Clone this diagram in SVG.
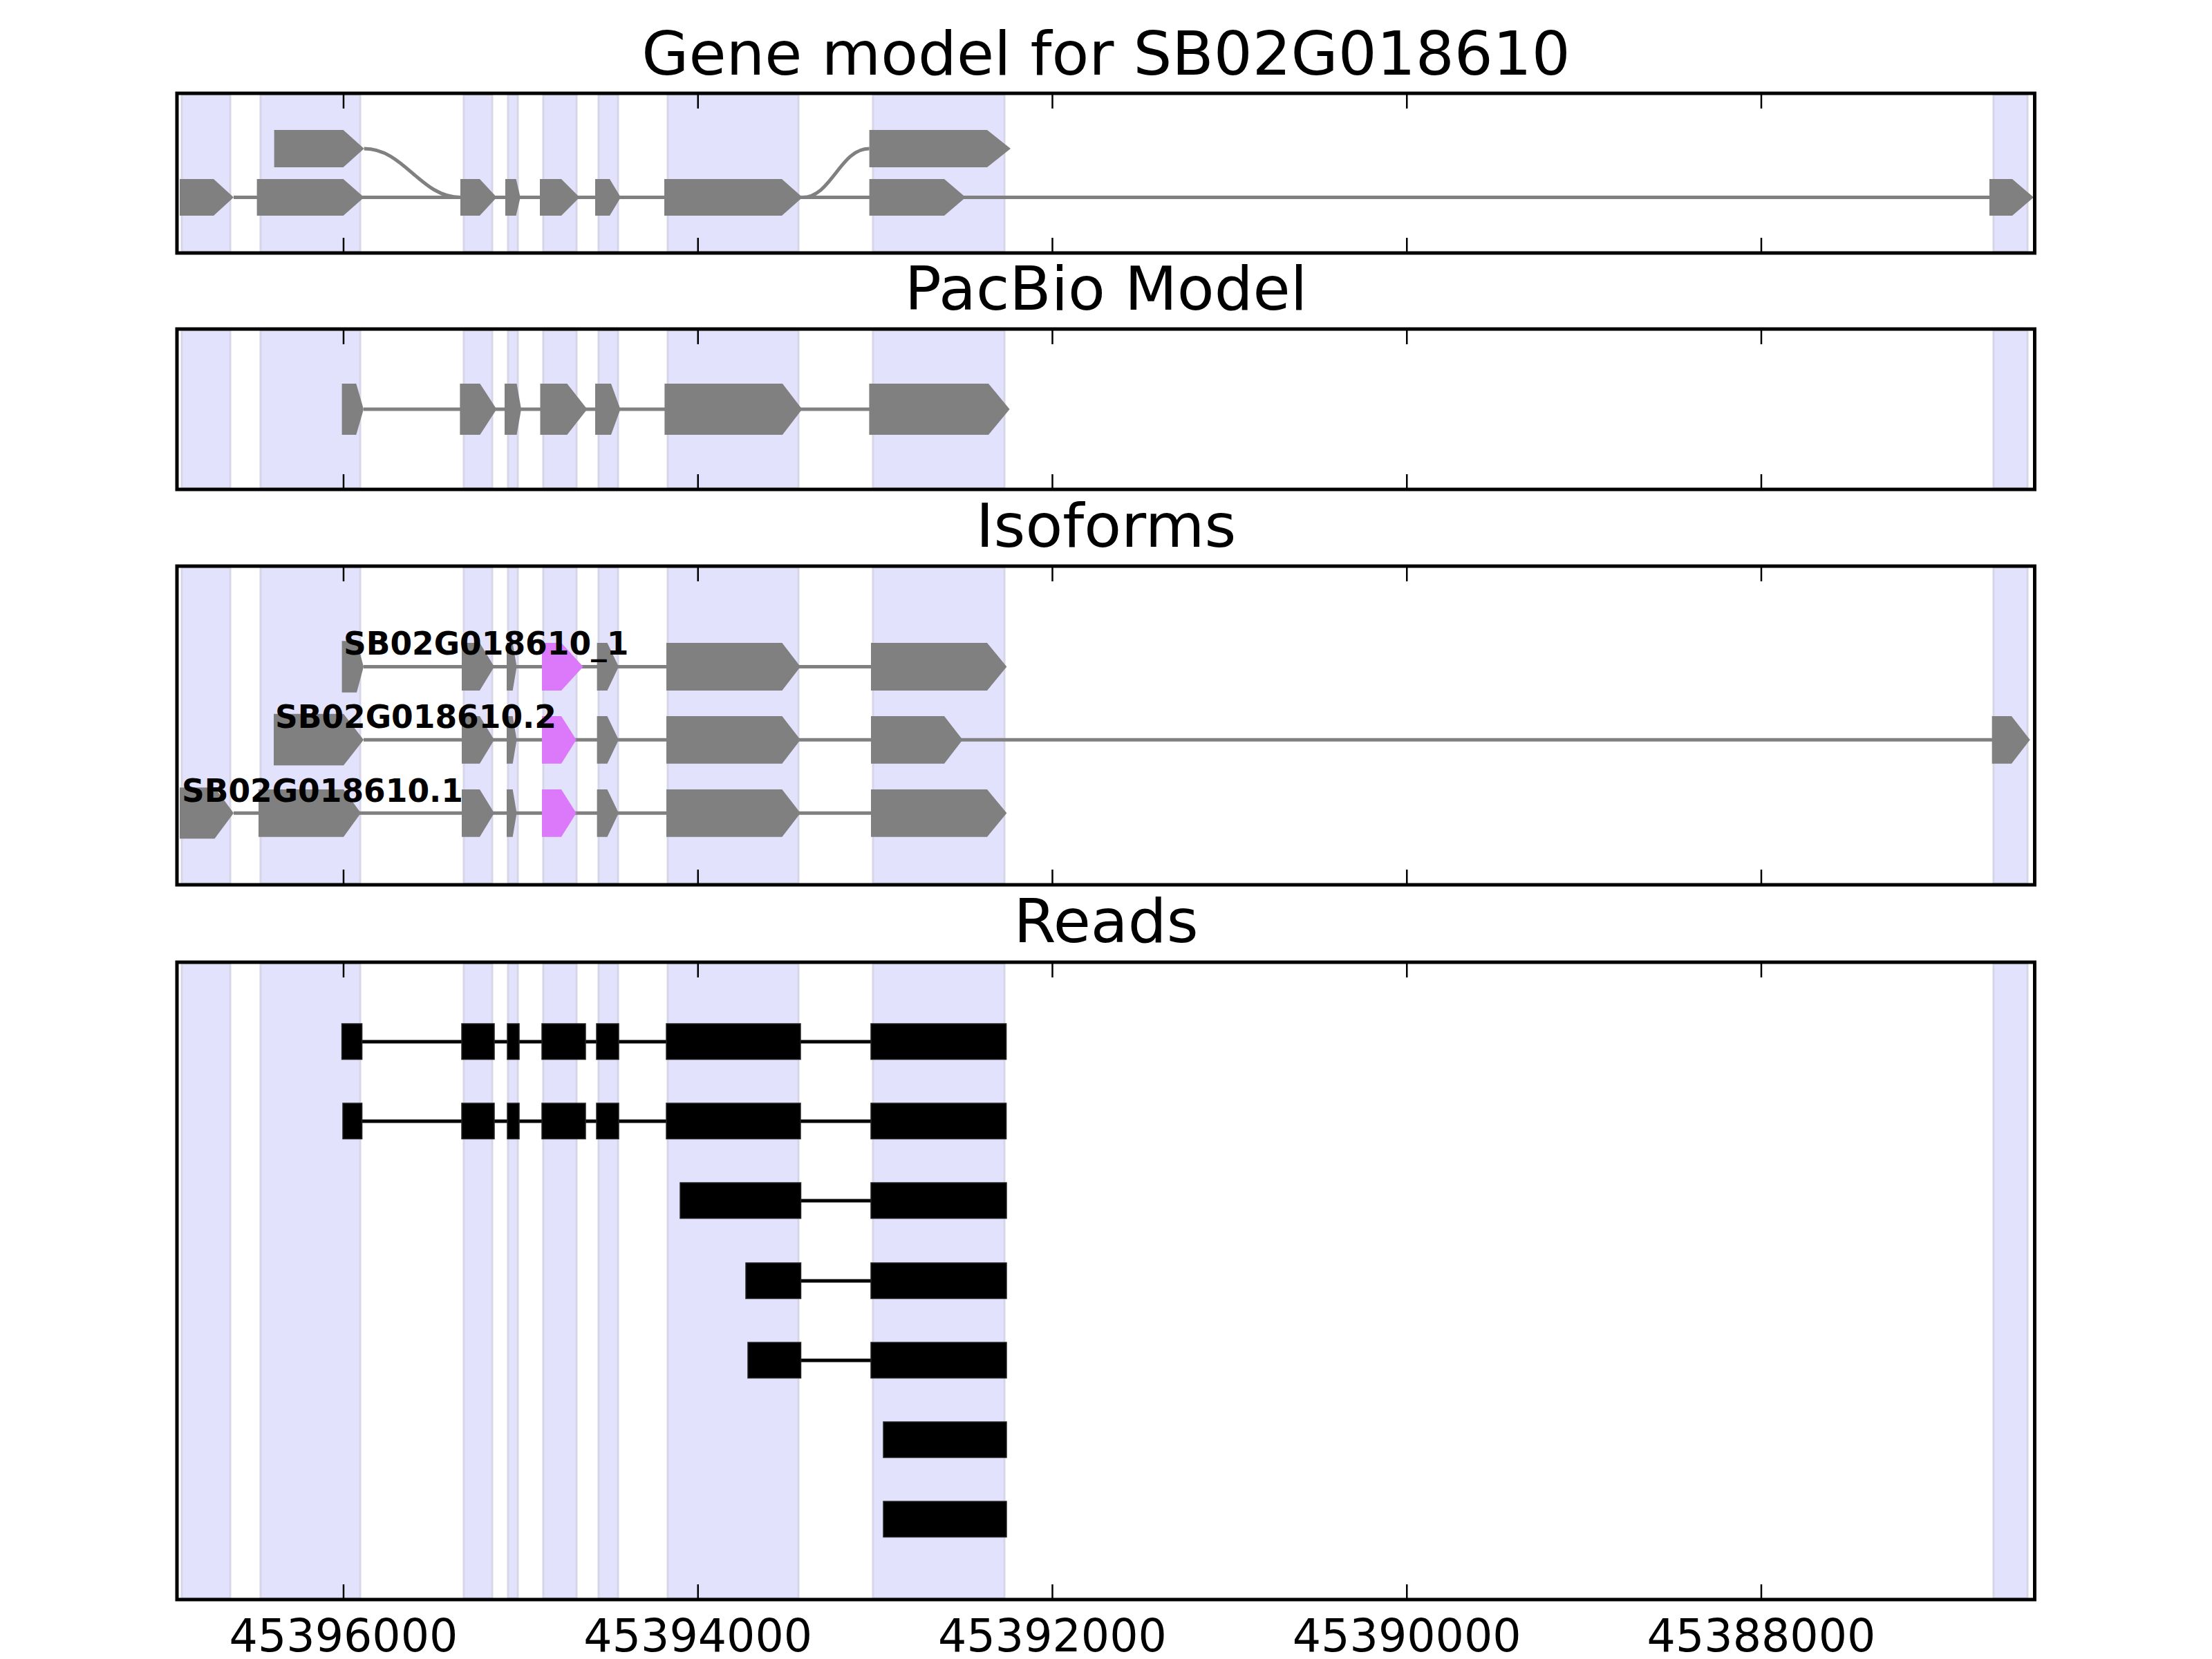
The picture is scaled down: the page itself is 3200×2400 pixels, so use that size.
<svg xmlns="http://www.w3.org/2000/svg" width="3200" height="2400" viewBox="0 0 3200 2400">
<style>
.band{fill:#e2e2fd;stroke:#d6d6e8;stroke-width:3}
.ex{fill:#808080}
.mg{fill:#dc78fa}
.ln{stroke:#808080;stroke-width:5;fill:none}
.rd{fill:#000;stroke:#222;stroke-width:1.5}
.rl{stroke:#000;stroke-width:5}
.ax{fill:none;stroke:#000;stroke-width:5}
.tk{stroke:#000;stroke-width:2.5}
.title{font-family:"DejaVu Sans",sans-serif;font-size:88px;text-anchor:middle;fill:#000}
.lab{font-family:"DejaVu Sans",sans-serif;font-weight:bold;font-size:45.5px;fill:#000}
.tl{font-family:"DejaVu Sans",sans-serif;font-size:65px;text-anchor:middle;fill:#000}
</style>
<rect width="3200" height="2400" fill="#fff"/>

<!-- Panel 1 -->
<g id="panel-gene-model">
<text class="title" x="1600" y="108">Gene model for SB02G018610</text>
<g id="bands-p1">
<rect class="band" x="263" y="137" width="70" height="227"/>
<rect class="band" x="377" y="137" width="144" height="227"/>
<rect class="band" x="671" y="137" width="41" height="227"/>
<rect class="band" x="735" y="137" width="14" height="227"/>
<rect class="band" x="786" y="137" width="48" height="227"/>
<rect class="band" x="866" y="137" width="28" height="227"/>
<rect class="band" x="966" y="137" width="189" height="227"/>
<rect class="band" x="1263" y="137" width="190" height="227"/>
<rect class="band" x="2884" y="137" width="49" height="227"/>
</g>
<g id="connectors-p1">
<line class="ln" x1="338" y1="285.5" x2="2880" y2="285.5"/>
<path class="ln" d="M526.7,215 C585,215 608,285.5 666,285.5"/>
<path class="ln" d="M1161,285.5 C1203,285.5 1215,215 1257.6,215"/>
</g>
<g id="transcript-p1-a">
<polygon class="ex" points="260,259 309,259 338,285.5 309,312 260,312"/>
<polygon class="ex" points="371.6,259 496.6,259 526.7,285.5 496.6,312 371.6,312"/>
<polygon class="ex" points="666,259 694,259 718.6,285.5 694,312 666,312"/>
<polygon class="ex" points="731,259 746.6,259 752.8,285.5 746.6,312 731,312"/>
<polygon class="ex" points="781,259 812,259 838.5,285.5 812,312 781,312"/>
<polygon class="ex" points="861,259 882,259 898,285.5 882,312 861,312"/>
<polygon class="ex" points="961,259 1131,259 1161,285.5 1131,312 961,312"/>
<polygon class="ex" points="1257.6,259 1366,259 1397,285.5 1366,312 1257.6,312"/>
<polygon class="ex" points="2878,259 2911,259 2942,285.5 2911,312 2878,312"/>
</g>
<g id="transcript-p1-b">
<polygon class="ex" points="396.6,188 496.6,188 526.7,215 496.6,242 396.6,242"/>
<polygon class="ex" points="1257.6,188 1428,188 1462,215 1428,242 1257.6,242"/>
</g>
<rect class="ax" x="256" y="135" width="2687.5" height="231"/>
<g class="tk">
<line x1="497" y1="135" x2="497" y2="157"/><line x1="1009.75" y1="135" x2="1009.75" y2="157"/><line x1="1522.5" y1="135" x2="1522.5" y2="157"/><line x1="2035.25" y1="135" x2="2035.25" y2="157"/><line x1="2548" y1="135" x2="2548" y2="157"/>
<line x1="497" y1="366" x2="497" y2="344"/><line x1="1009.75" y1="366" x2="1009.75" y2="344"/><line x1="1522.5" y1="366" x2="1522.5" y2="344"/><line x1="2035.25" y1="366" x2="2035.25" y2="344"/><line x1="2548" y1="366" x2="2548" y2="344"/>
</g>
</g>

<!-- Panel 2 -->
<g id="panel-pacbio">
<text class="title" x="1600" y="448">PacBio Model</text>
<g id="bands-p2">
<rect class="band" x="263" y="478" width="70" height="228"/>
<rect class="band" x="377" y="478" width="144" height="228"/>
<rect class="band" x="671" y="478" width="41" height="228"/>
<rect class="band" x="735" y="478" width="14" height="228"/>
<rect class="band" x="786" y="478" width="48" height="228"/>
<rect class="band" x="866" y="478" width="28" height="228"/>
<rect class="band" x="966" y="478" width="189" height="228"/>
<rect class="band" x="1263" y="478" width="190" height="228"/>
<rect class="band" x="2884" y="478" width="49" height="228"/>
</g>
<g id="connectors-p2">
<line class="ln" x1="526" y1="592" x2="1258" y2="592"/>
</g>
<g id="transcript-pacbio">
<polygon class="ex" points="494.6,555 515.3,555 526,592 515.3,629 494.6,629"/>
<polygon class="ex" points="665.4,555 694.4,555 718.4,592 694.4,629 665.4,629"/>
<polygon class="ex" points="730,555 747.5,555 754,592 747.5,629 730,629"/>
<polygon class="ex" points="781.5,555 820.4,555 849.5,592 820.4,629 781.5,629"/>
<polygon class="ex" points="861,555 884,555 897.5,592 884,629 861,629"/>
<polygon class="ex" points="961.4,555 1132,555 1160.4,592 1132,629 961.4,629"/>
<polygon class="ex" points="1257.4,555 1430,555 1460.6,592 1430,629 1257.4,629"/>
</g>
<rect class="ax" x="256" y="476" width="2687.5" height="232"/>
<g class="tk">
<line x1="497" y1="476" x2="497" y2="498"/><line x1="1009.75" y1="476" x2="1009.75" y2="498"/><line x1="1522.5" y1="476" x2="1522.5" y2="498"/><line x1="2035.25" y1="476" x2="2035.25" y2="498"/><line x1="2548" y1="476" x2="2548" y2="498"/>
<line x1="497" y1="708" x2="497" y2="686"/><line x1="1009.75" y1="708" x2="1009.75" y2="686"/><line x1="1522.5" y1="708" x2="1522.5" y2="686"/><line x1="2035.25" y1="708" x2="2035.25" y2="686"/><line x1="2548" y1="708" x2="2548" y2="686"/>
</g>
</g>

<!-- Panel 3 -->
<g id="panel-isoforms">
<text class="title" x="1600" y="791">Isoforms</text>
<g id="bands-p3">
<rect class="band" x="263" y="821" width="70" height="457"/>
<rect class="band" x="377" y="821" width="144" height="457"/>
<rect class="band" x="671" y="821" width="41" height="457"/>
<rect class="band" x="735" y="821" width="14" height="457"/>
<rect class="band" x="786" y="821" width="48" height="457"/>
<rect class="band" x="866" y="821" width="28" height="457"/>
<rect class="band" x="966" y="821" width="189" height="457"/>
<rect class="band" x="1263" y="821" width="190" height="457"/>
<rect class="band" x="2884" y="821" width="49" height="457"/>
</g>
<g id="connectors-p3">
<line class="ln" x1="526" y1="964.5" x2="1260" y2="964.5"/>
<line class="ln" x1="526" y1="1070.3" x2="2882" y2="1070.3"/>
<line class="ln" x1="338" y1="1176.3" x2="1260" y2="1176.3"/>
</g>
<g id="iso-SB02G018610_1">
<polygon class="ex" points="494.6,927.3 516,927.3 526,964.5 516,1001.7 494.6,1001.7"/>
<polygon class="ex" points="668,930 694,930 715,964.5 694,999 668,999"/>
<polygon class="ex" points="733,930 741.7,930 747.5,964.5 741.7,999 733,999"/>
<polygon class="mg" points="784,930 812,930 843.6,964.5 812,999 784,999"/>
<polygon class="ex" points="863.6,930 878.5,930 895,964.5 878.5,999 863.6,999"/>
<polygon class="ex" points="964,930 1131.4,930 1158,964.5 1131.4,999 964,999"/>
<polygon class="ex" points="1260,930 1428,930 1456.4,964.5 1428,999 1260,999"/>
<text class="lab" x="497" y="947">SB02G018610_1</text>
</g>
<g id="iso-SB02G018610.2">
<polygon class="ex" points="396,1032.7 497,1032.7 526,1070.3 497,1107.3 396,1107.3"/>
<polygon class="ex" points="668,1036 694,1036 715,1070.3 694,1104.7 668,1104.7"/>
<polygon class="ex" points="733,1036 741.7,1036 747.5,1070.3 741.7,1104.7 733,1104.7"/>
<polygon class="mg" points="784,1036 812,1036 833.7,1070.3 812,1104.7 784,1104.7"/>
<polygon class="ex" points="863.6,1036 878.5,1036 895,1070.3 878.5,1104.7 863.6,1104.7"/>
<polygon class="ex" points="964,1036 1131.4,1036 1158,1070.3 1131.4,1104.7 964,1104.7"/>
<polygon class="ex" points="1260,1036 1366,1036 1392.6,1070.3 1366,1104.7 1260,1104.7"/>
<polygon class="ex" points="2881.7,1036 2910,1036 2936.7,1070.3 2910,1104.7 2881.7,1104.7"/>
<text class="lab" x="398" y="1053">SB02G018610.2</text>
</g>
<g id="iso-SB02G018610.1">
<polygon class="ex" points="260,1139.3 310.5,1139.3 338,1176.3 310.5,1213.3 260,1213.3"/>
<polygon class="ex" points="374,1142 497,1142 522,1176.3 497,1210.7 374,1210.7"/>
<polygon class="ex" points="668,1142 694,1142 715,1176.3 694,1210.7 668,1210.7"/>
<polygon class="ex" points="733,1142 741.7,1142 747.5,1176.3 741.7,1210.7 733,1210.7"/>
<polygon class="mg" points="784,1142 812,1142 833.7,1176.3 812,1210.7 784,1210.7"/>
<polygon class="ex" points="863.6,1142 878.5,1142 895,1176.3 878.5,1210.7 863.6,1210.7"/>
<polygon class="ex" points="964,1142 1131.4,1142 1158,1176.3 1131.4,1210.7 964,1210.7"/>
<polygon class="ex" points="1260,1142 1428,1142 1456.4,1176.3 1428,1210.7 1260,1210.7"/>
<text class="lab" x="263" y="1160">SB02G018610.1</text>
</g>
<rect class="ax" x="256" y="819" width="2687.5" height="461"/>
<g class="tk">
<line x1="497" y1="819" x2="497" y2="841"/><line x1="1009.75" y1="819" x2="1009.75" y2="841"/><line x1="1522.5" y1="819" x2="1522.5" y2="841"/><line x1="2035.25" y1="819" x2="2035.25" y2="841"/><line x1="2548" y1="819" x2="2548" y2="841"/>
<line x1="497" y1="1280" x2="497" y2="1258"/><line x1="1009.75" y1="1280" x2="1009.75" y2="1258"/><line x1="1522.5" y1="1280" x2="1522.5" y2="1258"/><line x1="2035.25" y1="1280" x2="2035.25" y2="1258"/><line x1="2548" y1="1280" x2="2548" y2="1258"/>
</g>
</g>

<!-- Panel 4 -->
<g id="panel-reads">
<text class="title" x="1600" y="1363">Reads</text>
<g id="bands-p4">
<rect class="band" x="263" y="1394" width="70" height="918"/>
<rect class="band" x="377" y="1394" width="144" height="918"/>
<rect class="band" x="671" y="1394" width="41" height="918"/>
<rect class="band" x="735" y="1394" width="14" height="918"/>
<rect class="band" x="786" y="1394" width="48" height="918"/>
<rect class="band" x="866" y="1394" width="28" height="918"/>
<rect class="band" x="966" y="1394" width="189" height="918"/>
<rect class="band" x="1263" y="1394" width="190" height="918"/>
<rect class="band" x="2884" y="1394" width="49" height="918"/>
</g>
<g id="connectors-p4">
<line class="rl" x1="523" y1="1507" x2="1260" y2="1507"/>
<line class="rl" x1="523" y1="1622" x2="1260" y2="1622"/>
<line class="rl" x1="1158" y1="1737" x2="1260" y2="1737"/>
<line class="rl" x1="1158" y1="1853" x2="1260" y2="1853"/>
<line class="rl" x1="1158" y1="1968" x2="1260" y2="1968"/>
</g>
<g id="read-1">
<rect class="rd" x="494.6" y="1481" width="29" height="51.5"/>
<rect class="rd" x="668" y="1481" width="47" height="51.5"/>
<rect class="rd" x="734" y="1481" width="17" height="51.5"/>
<rect class="rd" x="784" y="1481" width="63" height="51.5"/>
<rect class="rd" x="863" y="1481" width="32" height="51.5"/>
<rect class="rd" x="964" y="1481" width="194" height="51.5"/>
<rect class="rd" x="1260" y="1481" width="195.6" height="51.5"/>
</g>
<g id="read-2">
<rect class="rd" x="496" y="1596" width="27.6" height="51.5"/>
<rect class="rd" x="668" y="1596" width="47" height="51.5"/>
<rect class="rd" x="734" y="1596" width="17" height="51.5"/>
<rect class="rd" x="784" y="1596" width="63" height="51.5"/>
<rect class="rd" x="863" y="1596" width="32" height="51.5"/>
<rect class="rd" x="964" y="1596" width="194" height="51.5"/>
<rect class="rd" x="1260" y="1596" width="195.6" height="51.5"/>
</g>
<g id="read-3">
<rect class="rd" x="984" y="1711" width="174.5" height="51.5"/>
<rect class="rd" x="1260" y="1711" width="196" height="51.5"/>
</g>
<g id="read-4">
<rect class="rd" x="1079" y="1827" width="79.5" height="51.5"/>
<rect class="rd" x="1260" y="1827" width="196" height="51.5"/>
</g>
<g id="read-5">
<rect class="rd" x="1082" y="1942" width="76.5" height="51.5"/>
<rect class="rd" x="1260" y="1942" width="196" height="51.5"/>
</g>
<g id="read-6">
<rect class="rd" x="1278" y="2057" width="178" height="51.5"/>
</g>
<g id="read-7">
<rect class="rd" x="1278" y="2172" width="178" height="51.5"/>
</g>
<rect class="ax" x="256" y="1392" width="2687.5" height="922"/>
<g class="tk">
<line x1="497" y1="1392" x2="497" y2="1414"/><line x1="1009.75" y1="1392" x2="1009.75" y2="1414"/><line x1="1522.5" y1="1392" x2="1522.5" y2="1414"/><line x1="2035.25" y1="1392" x2="2035.25" y2="1414"/><line x1="2548" y1="1392" x2="2548" y2="1414"/>
<line x1="497" y1="2314" x2="497" y2="2292"/><line x1="1009.75" y1="2314" x2="1009.75" y2="2292"/><line x1="1522.5" y1="2314" x2="1522.5" y2="2292"/><line x1="2035.25" y1="2314" x2="2035.25" y2="2292"/><line x1="2548" y1="2314" x2="2548" y2="2292"/>
</g>
<g id="tick-labels">
<text class="tl" x="497" y="2389">45396000</text>
<text class="tl" x="1009.75" y="2389">45394000</text>
<text class="tl" x="1522.5" y="2389">45392000</text>
<text class="tl" x="2035.25" y="2389">45390000</text>
<text class="tl" x="2548" y="2389">45388000</text>
</g>
</g>
</svg>
